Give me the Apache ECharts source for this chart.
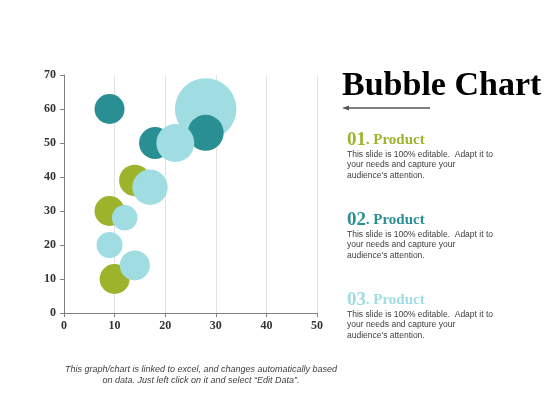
<!DOCTYPE html>
<html lang="en">
	<head>
		<meta charset="UTF-8" />
		<title>Bubble Chart</title>
		<script src="https://cdn.jsdelivr.net/npm/echarts@6/dist/echarts.min.js"></script>
		<style>
			html, body { margin: 0; padding: 0; background: #fff; }
		</style>
	</head>
	<body>
		<div id="main" style="width: 560px; height: 420px"></div>
		<script type="text/javascript">
			// bubble data per product: x, y, size
			const productNames = ["01. Product", "02. Product", "03. Product"];
			const productColors = ["#9db32c", "#2a8f92", "#9fdde2"];

			const greenX = [10, 9, 14];
			const greenY = [10, 30, 39];
			const greenSize = [10, 10, 11];

			const tealX = [9, 18, 28];
			const tealY = [60, 50, 53];
			const tealSize = [10, 11.4, 14.4];

			// first item is the big one, it sits behind the others
			const lightX = [28, 9, 14, 12, 17, 22];
			const lightY = [60, 20, 14, 28, 37, 50];
			const lightSize = [42, 7.5, 10, 7.2, 13.9, 16];

			const xTicks = [0, 10, 20, 30, 40, 50];
			const yTicks = [0, 10, 20, 30, 40, 50, 60, 70];

			const bodyText = "This slide is 100% editable.  Adapt it to\nyour needs and capture your\naudience's attention.";

			const zip = (xs, ys, ss) => xs.map((x, i) => [x, ys[i], ss[i]]);
			const green = zip(greenX, greenY, greenSize);
			const teal = zip(tealX, tealY, tealSize);
			const light = zip(lightX, lightY, lightSize);

			const bubble = (name, data, color) => ({
				name,
				type: "scatter",
				data,
				symbolSize: (v) => Math.sqrt(v[2]) * 9.49,
				itemStyle: { color, opacity: 1 },
				silent: true,
			});

			const productBlock = (i, top) => [
				{
					type: "text",
					left: 347,
					top: top,
					style: {
						text: "{n|" + productNames[i].slice(0, 2) + "}{d|.}{p| " + productNames[i].slice(4) + "}",
						rich: {
							n: { fontFamily: "Liberation Serif", fontWeight: "bold", fontSize: 19, fill: productColors[i] },
							d: { fontFamily: "Liberation Serif", fontWeight: "bold", fontSize: 14, fill: productColors[i] },
							p: { fontFamily: "Liberation Serif", fontWeight: "bold", fontSize: 15, fill: productColors[i] },
						},
					},
				},
				{
					type: "text",
					left: 347,
					top: top + 18,
					style: {
						text: bodyText,
						fontFamily: "Liberation Sans",
						fontSize: 8.5,
						lineHeight: 10.6,
						fill: "#404040",
					},
				},
			];

			let chart = echarts.init(document.getElementById("main"));
			chart.setOption({
				animation: false,
				backgroundColor: "#fff",
				grid: { left: 64, right: 243, top: 75, bottom: 107 },
				xAxis: {
					type: "value",
					min: xTicks[0],
					max: xTicks[xTicks.length - 1],
					interval: 10,
					axisLine: { show: true, lineStyle: { color: "#808080", width: 1 } },
					axisTick: { show: true, length: 4, lineStyle: { color: "#808080" } },
					splitLine: { show: true, lineStyle: { color: "#e2e2e2" } },
					axisLabel: {
						fontFamily: "Liberation Serif",
						fontWeight: "bold",
						fontSize: 12,
						color: "#333",
						margin: 7,
					},
				},
				yAxis: {
					type: "value",
					min: yTicks[0],
					max: yTicks[yTicks.length - 1],
					interval: 10,
					axisLine: { show: true, lineStyle: { color: "#808080", width: 1 } },
					axisTick: { show: true, length: 4, lineStyle: { color: "#808080" } },
					splitLine: { show: false },
					axisLabel: {
						fontFamily: "Liberation Serif",
						fontWeight: "bold",
						fontSize: 12,
						color: "#333",
						margin: 8,
					},
				},
				series: [
					bubble(productNames[2], light.slice(0, 1), productColors[2]),
					bubble(productNames[0], green, productColors[0]),
					bubble(productNames[1], teal, productColors[1]),
					bubble(productNames[2], light.slice(1), productColors[2]),
				],
				graphic: [
					{
						type: "text",
						left: 342,
						top: 69,
						style: {
							text: "Bubble Chart",
							fontFamily: "Liberation Serif",
							fontWeight: "bold",
							fontSize: 34,
							fill: "#000",
						},
					},
					{
						type: "line",
						shape: { x1: 346, y1: 108, x2: 430, y2: 108 },
						style: { stroke: "#555", lineWidth: 1.3 },
					},
					{
						type: "polygon",
						shape: { points: [[342, 108], [349, 105.5], [349, 110.5]] },
						style: { fill: "#555" },
					},
					...productBlock(0, 131),
					...productBlock(1, 211),
					...productBlock(2, 291),
					{
						type: "text",
						x: 201,
						y: 364,
						style: {
							text: "This graph/chart is linked to excel, and changes automatically based\non data. Just left click on it and select \u201cEdit Data\u201d.",
							fontFamily: "Liberation Sans",
							fontStyle: "italic",
							fontSize: 9,
							lineHeight: 11,
							textAlign: "center",
							textVerticalAlign: "top",
							fill: "#404040",
						},
					},
				],
			});
		</script>
	</body>
</html>
